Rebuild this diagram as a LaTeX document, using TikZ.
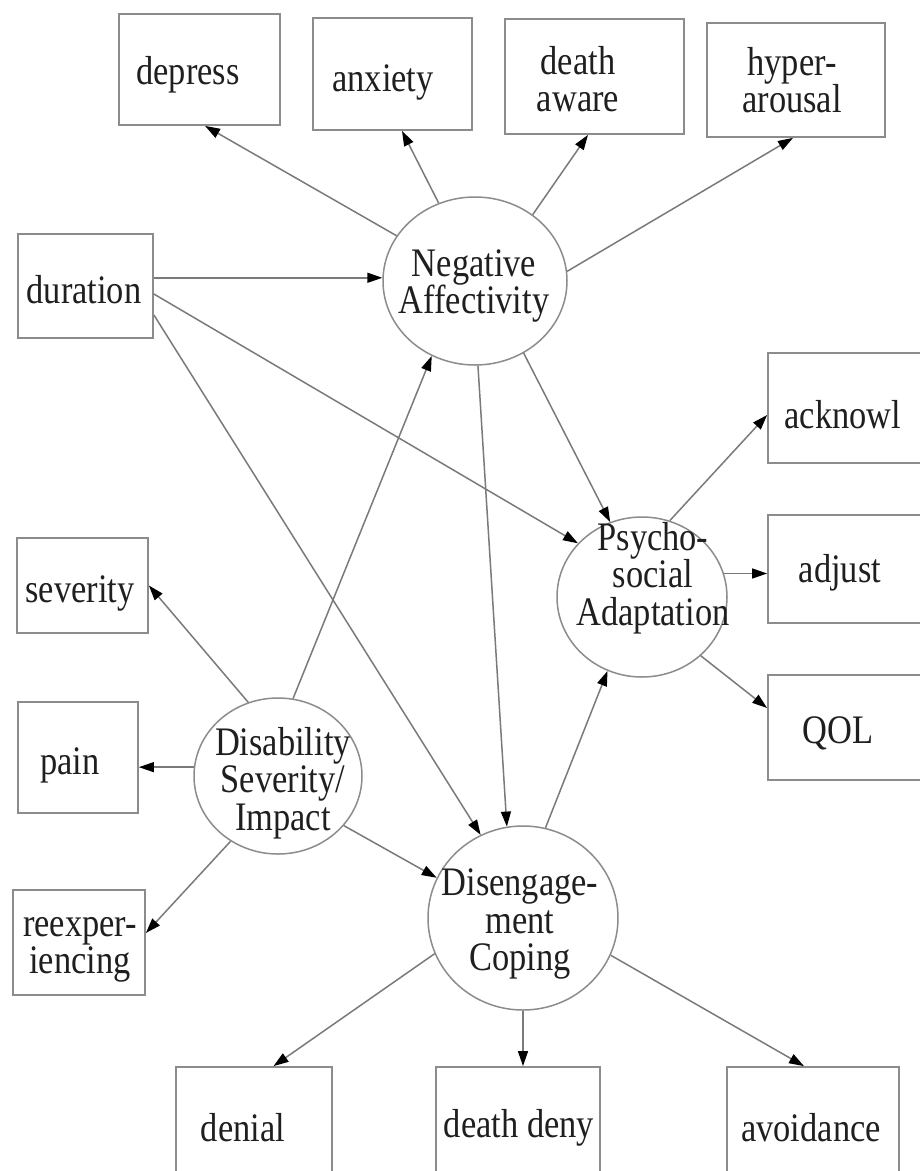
\documentclass[tikz,border=0pt]{standalone}
\usepackage{fontspec}
\setmainfont{Liberation Serif}[FakeStretch=0.85]
\usetikzlibrary{arrows.meta,shapes.geometric}

\begin{document}
\begin{tikzpicture}[x=1pt,y=-1pt,
  lbl/.style={font=\fontsize{40.5}{37.5}\selectfont, text=black!88, align=center, inner sep=0pt},
  obs/.style={draw=black!45, line width=1.8pt, rectangle, inner sep=0pt},
  lat/.style={draw=black!45, line width=1.5pt, ellipse, inner sep=0pt},
  link/.style={draw=black!52, line width=1.5pt, -{Triangle[length=15pt,width=10pt,color=black]}},
]
\useasboundingbox (0,0) rectangle (920,1171);
\fill[white] (0,0) rectangle (920,1171);
\clip (0,0) rectangle (920,1171);

% observed indicators (boxes)
\node[obs, minimum width=161pt, minimum height=111pt] (dep) at (199.5,69.5) {};
\node[obs, minimum width=159pt, minimum height=112pt] (anx) at (392.5,74) {};
\node[obs, minimum width=179pt, minimum height=115pt] (dth) at (594.5,76.5) {};
\node[obs, minimum width=178pt, minimum height=114pt] (hyp) at (796,80) {};
\node[obs, minimum width=135pt, minimum height=104pt] (dur) at (85.5,286) {};
\node[obs, minimum width=160pt, minimum height=110pt] (ack) at (848,408) {};
\node[obs, minimum width=160pt, minimum height=108pt] (adj) at (848,569) {};
\node[obs, minimum width=160pt, minimum height=105pt] (qol) at (848,727.5) {};
\node[obs, minimum width=131pt, minimum height=95pt] (sev) at (82.5,585.5) {};
\node[obs, minimum width=120pt, minimum height=111pt] (pain) at (78,757.5) {};
\node[obs, minimum width=132pt, minimum height=105pt] (rex) at (79,942.5) {};
\node[obs, minimum width=156pt, minimum height=110pt] (den) at (254,1122) {};
\node[obs, minimum width=164pt, minimum height=110pt] (ddn) at (518,1122) {};
\node[obs, minimum width=172pt, minimum height=110pt] (avo) at (813,1122) {};

% latent constructs (ellipses)
\node[lat, minimum width=184pt, minimum height=168pt] (na) at (475,281) {};
\node[lat, minimum width=170pt, minimum height=160pt] (psy) at (642,597) {};
\node[lat, minimum width=168pt, minimum height=156pt] (dis) at (278,776) {};
\node[lat, minimum width=190pt, minimum height=184pt] (cop) at (523,918) {};

% labels
\node[lbl] (depT) at (188,75) {depress};
\node[lbl] (anxT) at (383,82) {anxiety};
\node[lbl] (dthT) at (578,79) {death\\aware};
\node[lbl] (hypT) at (792,80) {hyper-\\arousal};
\node[lbl] (durT) at (84,290) {duration};
\node[lbl] (naT) at (474,286) {Negative\\Affectivity};
\node[lbl] (ackT) at (843,415) {acknowl};
\node[lbl] (adjT) at (840,573) {adjust};
\node[lbl] (qolT) at (838,733) {QOL};
\node[lbl] (psyT) at (653,578) {Psycho-\\social\\Adaptation};
\node[lbl] (sevT) at (80,593) {severity};
\node[lbl] (painT) at (70,765) {pain};
\node[lbl] (disT) at (283,783) {Disability\\Severity/\\Impact};
\node[lbl] (rexT) at (80,950) {reexper-\\iencing};
\node[lbl] (copT) at (520,924) {Disengage-\\ment\\Coping};
\node[lbl] (denT) at (243,1128) {denial};
\node[lbl] (ddnT) at (519,1128) {death deny};
\node[lbl] (avoT) at (811,1128) {avoidance};

% paths
\draw[link] (na.150) -- ([xshift=5.5pt]dep.south);
\draw[link] (na.115) -- ([xshift=9.5pt]anx.south);
\draw[link] (na.49) -- ([xshift=-6.5pt]dth.south);
\draw[link] (na.6) -- ([xshift=-3pt]hyp.south);
\draw[link] (dur.east |- na.178) -- (na.178);
\draw[link] ([yshift=-8pt]dur.east) -- (psy.140);
\draw[link] ([yshift=-29pt]dur.east) -- (cop.117);
\draw[link] (na.-88) -- (cop.100);
\draw[link] (na.-56) -- (psy.113);
\draw[link] (dis.79) -- (na.240);
\draw[link] (dis.112) -- (sev.east);
\draw[link] (dis.174) -- (dis.174 -| pain.east);
\draw[link] (dis.234) -- ([yshift=9.5pt]rex.east);
\draw[link] (dis.-37) -- (cop.155);
\draw[link] (cop.76) -- (psy.245);
\draw[link] (psy.70) -- ([yshift=-7pt]ack.west);
\draw[link] (psy.16) -- (psy.16 -| adj.west);
\draw[link] (psy.-45) -- ([yshift=19.5pt]qol.west);
\draw[link] (cop.202) -- ([xshift=19.5pt]den.north);
\draw[link] (cop.south) -- (cop.south |- ddn.north);
\draw[link] (cop.-23) -- ([xshift=-9pt]avo.north);
\end{tikzpicture}
\end{document}
